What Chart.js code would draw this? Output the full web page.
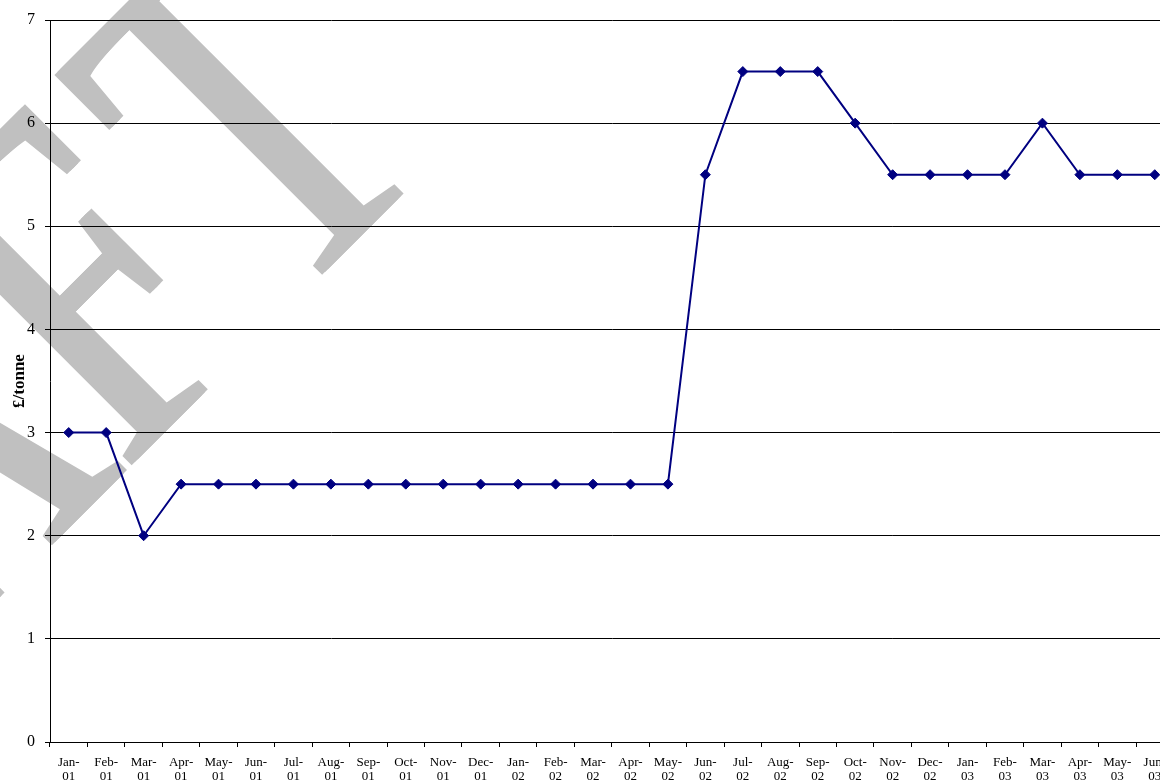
<!DOCTYPE html>
<html>
<head>
<meta charset="utf-8">
<script src="https://cdn.jsdelivr.net/npm/chart.js@4/dist/chart.umd.min.js"></script>
<style>
  html, body { margin: 0; padding: 0; background: #fff; overflow: hidden; }
  #wrap { position: absolute; left: 0; top: 0; }
</style>
</head>
<body>
<div id="wrap"><canvas id="c" width="1180" height="780"></canvas></div>
<script>
// Monthly periods on the category axis
const periods = [
  'Jan-01','Feb-01','Mar-01','Apr-01','May-01','Jun-01','Jul-01','Aug-01','Sep-01','Oct-01','Nov-01','Dec-01',
  'Jan-02','Feb-02','Mar-02','Apr-02','May-02','Jun-02','Jul-02','Aug-02','Sep-02','Oct-02','Nov-02','Dec-02',
  'Jan-03','Feb-03','Mar-03','Apr-03','May-03','Jun-03'
];

// Price in £ per tonne for each month
const pricePerTonne = [
  3, 3, 2, 2.5, 2.5, 2.5, 2.5, 2.5, 2.5, 2.5, 2.5, 2.5,
  2.5, 2.5, 2.5, 2.5, 2.5, 5.5, 6.5, 6.5, 6.5, 6, 5.5, 5.5,
  5.5, 5.5, 6, 5.5, 5.5, 5.5
];

// Value axis range
const yMin = 0;
const yMax = 7;
const yStep = 1;

const yTitle = '£/tonne';
const stampText = 'DRAFT';

// Each period is shown on two lines: "Jan-" above "01"
const tickLabels = periods.map(p => {
  const [m, y] = p.split('-');
  return [m + '-', y];
});

const SERIF = '"Liberation Serif", "Times New Roman", serif';

// Large grey diagonal stamp painted behind the chart, letter by letter
const stampPlugin = {
  id: 'stamp',
  beforeDraw(chart) {
    const ctx = chart.ctx;
    ctx.save();
    ctx.font = '505px ' + SERIF;
    const squeeze = 0.7;
    const lastGap = 44;          // extra room before the final letter (unscaled px)
    const thicken = 12;          // widens the vertical stems a little
    const chars = stampText.split('');
    const widths = chars.map(ch => ctx.measureText(ch).width);
    const xs = [];
    let pos = 0;
    chars.forEach((ch, i) => {
      if (i === chars.length - 1) pos += lastGap;
      xs.push(pos);
      pos += widths[i];
    });
    const n = chars.length - 1;
    const along = (xs[n] + widths[n] / 2) * squeeze;
    const ang = -Math.PI / 4;
    const ax = 363, ay = 234;
    ctx.translate(ax - along * Math.cos(ang), ay - along * Math.sin(ang));
    ctx.rotate(ang);
    ctx.scale(squeeze, 1);
    ctx.fillStyle = '#c0c0c0';
    ctx.textBaseline = 'alphabetic';
    ctx.textAlign = 'left';
    chars.forEach((ch, i) => {
      for (let d = -thicken / 2; d <= thicken / 2; d += thicken / 2) {
        ctx.fillText(ch, xs[i] + d, 0);
      }
    });
    ctx.restore();
  }
};

new Chart(document.getElementById('c'), {
  type: 'line',
  data: {
    labels: tickLabels,
    datasets: [{
      data: pricePerTonne,
      borderColor: '#000080',
      backgroundColor: '#000080',
      borderWidth: 2,
      pointStyle: 'rectRot',
      pointRadius: 5,
      pointHoverRadius: 5,
      pointBackgroundColor: '#000080',
      pointBorderColor: '#000080',
      pointBorderWidth: 1,
      tension: 0,
      fill: false
    }]
  },
  options: {
    responsive: false,
    animation: false,
    devicePixelRatio: 1,
    layout: { padding: { top: 20, right: 6.5, bottom: 0, left: 0 } },
    plugins: {
      legend: { display: false },
      tooltip: { enabled: false },
      title: { display: false }
    },
    scales: {
      x: {
        type: 'category',
        offset: true,
        grid: {
          offset: true,
          drawOnChartArea: false,
          drawTicks: true,
          tickLength: 5,
          color: '#000',
          lineWidth: 1
        },
        border: { display: true, color: '#000', width: 1 },
        ticks: {
          autoSkip: false,
          maxRotation: 0,
          minRotation: 0,
          padding: 8,
          color: '#000',
          font: { family: SERIF, size: 13, lineHeight: 1.12 }
        },
        afterFit(scale) { scale.height = 38; }
      },
      y: {
        min: yMin,
        max: yMax,
        ticks: {
          stepSize: yStep,
          padding: 10,
          color: '#000',
          font: { family: SERIF, size: 16 }
        },
        grid: {
          drawTicks: true,
          tickLength: 5,
          color: '#000',
          lineWidth: 1
        },
        border: { display: true, color: '#000', width: 1 },
        title: {
          display: true,
          text: yTitle,
          color: '#000',
          padding: { top: 9, bottom: 0 },
          font: { family: SERIF, size: 17, weight: 'bold' }
        },
        afterFit(scale) { scale.width = 50; }
      }
    }
  },
  plugins: [stampPlugin]
});
</script>
</body>
</html>
